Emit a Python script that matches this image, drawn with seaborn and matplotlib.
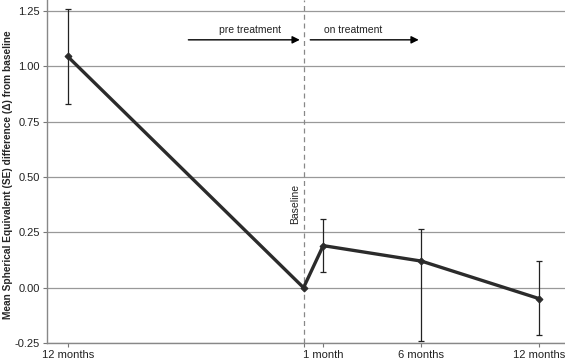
import matplotlib
matplotlib.use("Agg")
import matplotlib.pyplot as plt
import seaborn as sns
import pandas as pd
import numpy as np

# months relative to baseline
months = [-12, 0, 1, 6, 12]
mean_delta = [1.045, 0.0, 0.19, 0.12, -0.05]
err_low = [0.215, 0.0, 0.12, 0.36, 0.165]
err_high = [0.215, 0.0, 0.12, 0.145, 0.17]
tick_pos = [-12, 0, 1, 6, 12]
tick_labels = ["12 months", "", "1 month", "6 months", "12 months"]

df = pd.DataFrame({"month": months, "delta": mean_delta})

sns.set_style("white")
plt.rcParams['font.family'] = ['Liberation Sans', 'DejaVu Sans']

fig = plt.figure(figsize=(5.65, 3.62), dpi=100)
ax = fig.add_axes([47 / 565, 19 / 362, 1 - 47 / 565, 1 - 19 / 362])

# error bars (skip baseline, which has none)
has_err = [i for i in range(len(months)) if err_low[i] > 0]
ax.errorbar([months[i] for i in has_err], [mean_delta[i] for i in has_err],
            yerr=[[err_low[i] for i in has_err], [err_high[i] for i in has_err]],
            fmt="none", ecolor="#222222", elinewidth=0.9, capsize=2.5, capthick=0.9, zorder=3)

sns.lineplot(data=df, x="month", y="delta", ax=ax, color="#2b2b2b", linewidth=2.4,
             marker="D", markersize=3.5, markeredgecolor="#2b2b2b", zorder=4)

ax.set_ylim(-0.25, 1.30)
ax.set_xlim(-13.05, 13.3)
ax.set_yticks(np.arange(-0.25, 1.26, 0.25))
ax.set_yticklabels([f"{v:.2f}" for v in np.arange(-0.25, 1.26, 0.25)], fontsize=8, color="#222222")
ax.set_xticks(tick_pos)
ax.set_xticklabels(tick_labels, fontsize=8, color="#222222")
ax.tick_params(axis="both", length=3, width=0.8, color="#777777", pad=2, direction="out")
ax.tick_params(axis="x", bottom=True)
ax.tick_params(axis="y", left=True)

ax.grid(axis="y", color="#999999", linewidth=0.9)
ax.set_axisbelow(True)
for s in ["top", "right"]:
    ax.spines[s].set_visible(False)
for s in ["left", "bottom"]:
    ax.spines[s].set_color("#888888")
    ax.spines[s].set_linewidth(1.0)

# baseline marker
ax.axvline(0, color="#888888", linestyle=(0, (4, 3)), linewidth=0.9, zorder=2)
ax.text(-0.45, 0.38, "Baseline", rotation=90, ha="center", va="center", fontsize=7.5, color="#222222")

# treatment phase arrows
ax.annotate("", xy=(-0.05, 1.12), xytext=(-6.0, 1.12),
            arrowprops=dict(arrowstyle="-|>", color="black", lw=1.0, mutation_scale=11))
ax.annotate("", xy=(6.0, 1.12), xytext=(0.2, 1.12),
            arrowprops=dict(arrowstyle="-|>", color="black", lw=1.0, mutation_scale=11))
ax.text(-2.7, 1.165, "pre treatment", ha="center", va="center", fontsize=7.5, color="#222222")
ax.text(2.5, 1.165, "on treatment", ha="center", va="center", fontsize=7.5, color="#222222")

ax.set_xlabel("")
ax.set_ylabel("Mean Spherical Equivalent (SE) difference (Δ) from baseline",
              fontsize=7.3, fontweight="bold")
ax.yaxis.set_label_coords(-0.066, 0.49)

fig.savefig("out.png", dpi=100)
